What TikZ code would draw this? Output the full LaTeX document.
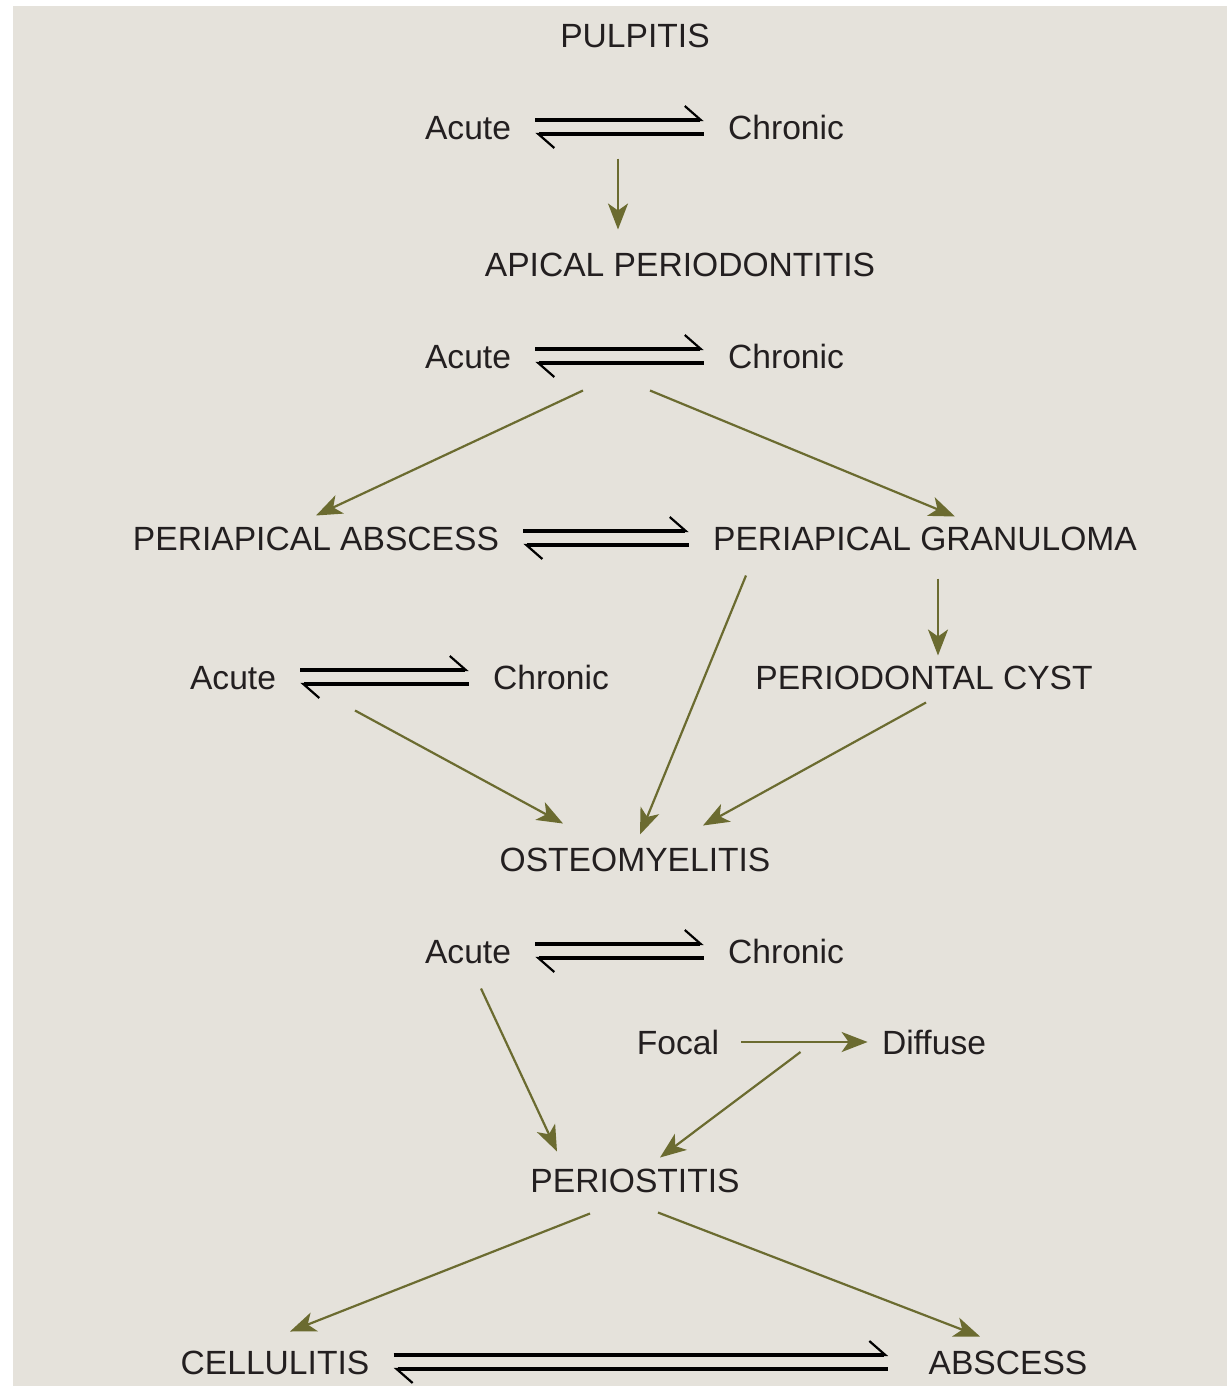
\documentclass[tikz,border=0pt]{standalone}
\usepackage{fontspec}
\setmainfont{Liberation Sans}
\usepackage{tikz}
\usetikzlibrary{arrows.meta, calc}
\definecolor{panel}{RGB}{229,226,219}
\definecolor{olive}{RGB}{107,107,48}
\definecolor{ink}{RGB}{35,31,32}

\begin{document}
\begin{tikzpicture}[x=0.5pt,y=-0.5pt,
          lbl/.style={inner xsep=0pt,inner ysep=5pt,text height=12.1pt,text depth=0pt,
                      text=ink,font=\fontsize{16.8}{20}\selectfont},
          arr/.style={-{Stealth[length=13pt,width=10pt,inset=3.5pt]},color=olive,line width=1.1pt},
          eqf/.style={-{Straight Barb[harpoon,length=8pt,width=14pt,line width=1.1pt]},
                      line width=1.8pt,shorten <=12pt,shorten >=12pt},
          eqb/.style={{Straight Barb[harpoon,length=8pt,width=14pt,line width=1.1pt]}-,
                      line width=1.8pt,shorten <=12pt,shorten >=12pt}]
        \useasboundingbox (0,0) rectangle (1227,1386);
        \fill[panel] (13,6) rectangle (1227,1386);
        \node[lbl](pul) at (635,35){PULPITIS};
        \node[lbl](ac1) at (468,127){Acute};
        \node[lbl](ch1) at (786,127){Chronic};
        \node[lbl](ap) at (680,264){APICAL PERIODONTITIS};
        \node[lbl](ac2) at (468,356){Acute};
        \node[lbl](ch2) at (786,356){Chronic};
        \node[lbl](pa) at (316,538){PERIAPICAL ABSCESS};
        \node[lbl](pg) at (925,538){PERIAPICAL GRANULOMA};
        \node[lbl](ac3) at (233,677){Acute};
        \node[lbl](ch3) at (551,677){Chronic};
        \node[lbl](pc) at (924,677){PERIODONTAL CYST};
        \node[lbl](ost) at (635,859){OSTEOMYELITIS};
        \node[lbl](ac4) at (468,951){Acute};
        \node[lbl](ch4) at (786,951){Chronic};
        \node[lbl](foc) at (678,1042){Focal};
        \node[lbl](dif) at (934,1042){Diffuse};
        \node[lbl](per) at (635,1180){PERIOSTITIS};
        \node[lbl](cel) at (275,1362){CELLULITIS};
        \node[lbl](abs) at (1008,1362){ABSCESS};
        % acute / chronic pairs
        \foreach \a/\c in {ac1/ch1,ac2/ch2,pa/pg,ac3/ch3,ac4/ch4}{
          \draw[eqf]([shift={(0,-7)}]\a.east)--([shift={(0,-7)}]\c.west);
          \draw[eqb]([shift={(0,7)}]\a.east)--([shift={(0,7)}]\c.west);
        }
        \draw[eqf,shorten >=20pt]([shift={(0,-7)}]cel.east)--([shift={(0,-7)}]abs.west);
        \draw[eqb,shorten >=20pt]([shift={(0,7)}]cel.east)--([shift={(0,7)}]abs.west);
        % flow
        \draw[arr]($(ac1.south)!.5!(ch1.south)+(-9,9)$)--([shift={(-62,-12)}]ap.north);
        \draw[arr]($(ac2.south)!.5!(ch2.south)+(-44,12)$)--(pa.north);
        \draw[arr]($(ac2.south)!.5!(ch2.south)+(23,12)$)--([shift={(30,1)}]pg.north);
        \draw[arr]([shift={(-179,15)}]pg.south)--([shift={(5,-2)}]ost.north);
        \draw[arr]([shift={(13,18)}]pg.south)--([shift={(14,1)}]pc.north);
        \draw[arr]($(ac3.south)!.5!(ch3.south)+(-37,11)$)--([shift={(-72,-13)}]ost.north);
        \draw[arr]([shift={(2,3)}]pc.south)--([shift={(68,-11)}]ost.north);
        \draw[arr]([shift={(13,15)}]ac4.south)--([shift={(-78,-6)}]per.north);
        \draw[arr,shorten <=11pt,shorten >=7pt](foc.east)--(dif.west);
        \draw[arr]($(foc.east)!.5!(dif.west)+(0,10)$)--([shift={(25,0)}]per.north);
        \draw[arr]([shift={(-45,11)}]per.south)--([shift={(15,-8)}]cel.north);
        \draw[arr]([shift={(23,10)}]per.south)--([shift={(-28,-3)}]abs.north);
      \end{tikzpicture}
\end{document}
